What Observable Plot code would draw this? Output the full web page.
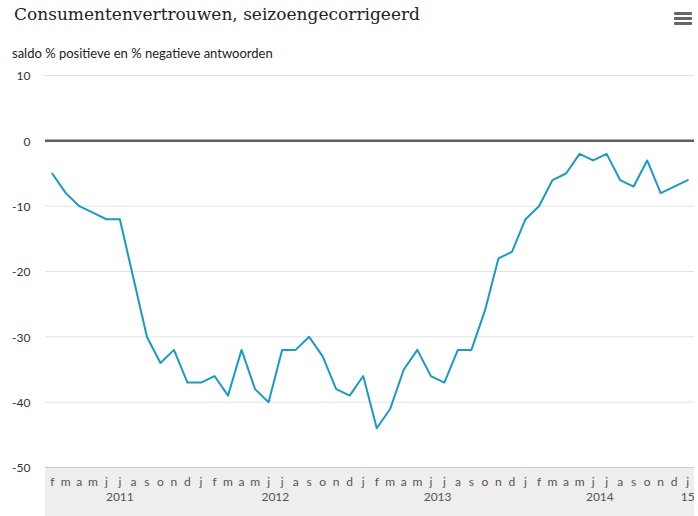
<!DOCTYPE html>
<html><head><meta charset="utf-8">
<script src="https://cdn.jsdelivr.net/npm/d3@7"></script>
<script src="https://cdn.jsdelivr.net/npm/@observablehq/plot@0.6"></script>
<style>
body{margin:0;background:#fff;width:698px;height:516px;overflow:hidden;position:relative;font-family:Lato,sans-serif}
#title{position:absolute;left:14px;top:4px;font:17px "DejaVu Serif";color:#222;white-space:nowrap}
#subtitle{position:absolute;left:12px;top:45px;font:13px Lato;color:#222;white-space:nowrap}
#menu{position:absolute;left:674px;top:12px;width:18px}
#menu div{height:3px;background:#666;margin-bottom:2px;border-radius:1px}
#chart{position:absolute;left:0;top:65px}
</style></head>
<body>
<div id="title">Consumentenvertrouwen, seizoengecorrigeerd</div>
<div id="subtitle">saldo % positieve en % negatieve antwoorden</div>
<div id="menu"><div></div><div></div><div></div></div>
<div id="chart"></div>
<script>
const months = [
 "2011-02","2011-03","2011-04","2011-05","2011-06","2011-07","2011-08","2011-09","2011-10","2011-11","2011-12",
 "2012-01","2012-02","2012-03","2012-04","2012-05","2012-06","2012-07","2012-08","2012-09","2012-10","2012-11","2012-12",
 "2013-01","2013-02","2013-03","2013-04","2013-05","2013-06","2013-07","2013-08","2013-09","2013-10","2013-11","2013-12",
 "2014-01","2014-02","2014-03","2014-04","2014-05","2014-06","2014-07","2014-08","2014-09","2014-10","2014-11","2014-12",
 "2015-01"];
const values = [
 -5,-8,-10,-11,-12,-12,-21,-30,-34,-32,-37,
 -37,-36,-39,-32,-38,-40,-32,-32,-30,-33,-38,-39,
 -36,-44,-41,-35,-32,-36,-37,-32,-32,-26,-18,-17,
 -12,-10,-6,-5,-2,-3,-2,-6,-7,-3,-8,-7,
 -6];
const monthLetters = ["j","f","m","a","m","j","j","a","s","o","n","d"];
const yearLabels = {"2011":"2011","2012":"2012","2013":"2013","2014":"2014","2015":"15"};
const yTicks = [10,0,-10,-20,-30,-40,-50];

const data = months.map((m,i)=>({i, v: values[i], letter: monthLetters[+m.slice(5)-1], year: m.slice(0,4)}));
const groups = d3.rollups(data, g => (d3.min(g,d=>d.i)+d3.max(g,d=>d.i))/2, d=>d.year)
  .map(([y,c])=>({label: yearLabels[y], c}));

const band = (index, scales, values, dims) => {
  const r = document.createElementNS("http://www.w3.org/2000/svg","rect");
  r.setAttribute("x", dims.marginLeft);
  r.setAttribute("width", dims.width - dims.marginLeft - dims.marginRight);
  r.setAttribute("y", dims.height - dims.marginBottom);
  r.setAttribute("height", dims.marginBottom);
  r.setAttribute("fill", "#eeeeee");
  return r;
};

const chart = Plot.plot({
  width: 698, height: 451,
  marginTop: 10, marginBottom: 49, marginLeft: 45, marginRight: 4,
  style: {fontFamily: "Lato, sans-serif", fontSize: "12px", color: "#333", background: "transparent"},
  x: {type: "linear", domain: [-0.5, months.length - 0.5], axis: null},
  y: {domain: [-50, 10], axis: null},
  marks: [
    band,
    Plot.ruleY(yTicks.filter(t => t !== 0 && t !== -50), {stroke: "#e2e2e2", strokeWidth: 1}),
    Plot.ruleY([-50], {stroke: "#cccccc", strokeWidth: 1}),
    Plot.ruleY([0], {stroke: "#606060", strokeWidth: 2.5}),
    Plot.lineY(data, {x: "i", y: "v", stroke: "#1a9bc6", strokeWidth: 2}),
    Plot.text(data, {x: "i", text: "letter", frameAnchor: "bottom", dy: 18, fill: "#555", fontSize: 12}),
    Plot.text(groups, {x: "c", text: "label", frameAnchor: "bottom", dy: 33, fill: "#555", fontSize: 12}),
    Plot.axisY(yTicks, {label: null, tickSize: 0, tickPadding: 15, tickFormat: d => String(d), fill: "#333", fontSize: 12, dy: 1})
  ]
});
document.getElementById("chart").appendChild(chart);
</script>
</body></html>
